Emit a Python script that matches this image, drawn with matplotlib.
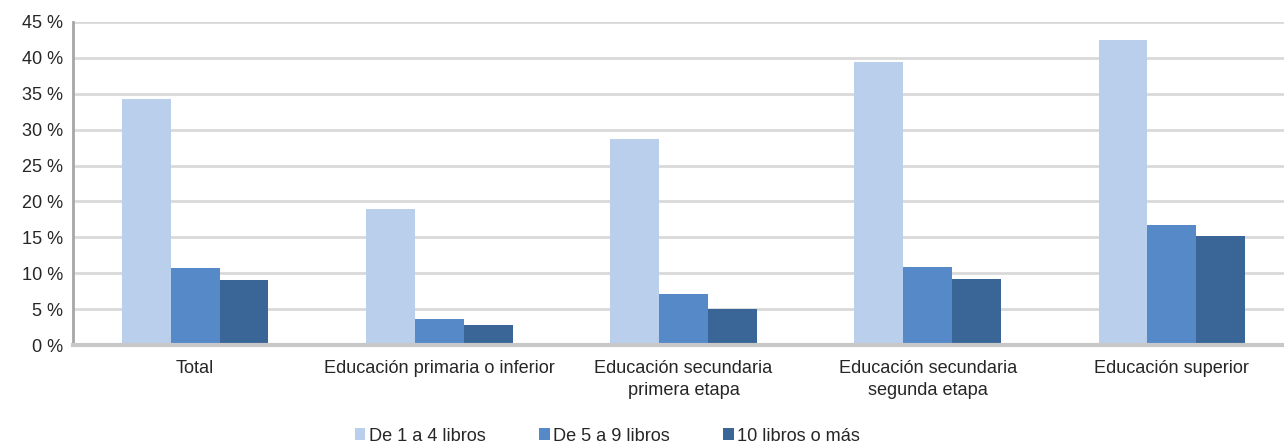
import matplotlib
matplotlib.use("Agg")
import matplotlib.pyplot as plt
import numpy as np

plt.rcParams['font.family'] = ['Liberation Sans', 'DejaVu Sans']

# data
categorias = ["Total", "Educación primaria o inferior",
              "Educación secundaria\nprimera etapa",
              "Educación secundaria\nsegunda etapa", "Educación superior"]
de_1_a_4 = [34.3, 18.9, 28.7, 39.4, 42.5]
de_5_a_9 = [10.7, 3.6, 7.1, 10.9, 16.7]
diez_o_mas = [9.05, 2.8, 5.0, 9.2, 15.2]
series = ["De 1 a 4 libros", "De 5 a 9 libros", "10 libros o más"]
colores = ['#b9cfeb', '#5589c8', '#3a6597']

fig = plt.figure(figsize=(12.84, 4.44), dpi=100)
ax = fig.add_axes([73 / 1284, 99 / 444, 1 - 73 / 1284, 323 / 444])

x = np.arange(len(categorias))
w = 0.2
for i, (vals, nom) in enumerate(zip([de_1_a_4, de_5_a_9, diez_o_mas], series)):
    ax.bar(x + (i - 1) * w, vals, w, color=colores[i], label=nom, zorder=3)

ax.set_ylim(0, 45)
ax.set_xlim(-0.5, 4.459)
ax.set_yticks(range(0, 46, 5))
ax.set_yticklabels([f"{v} %" for v in range(0, 46, 5)])
ax.set_xticks(x)
ax.set_xticklabels(categorias, linespacing=1.35)
ax.tick_params(axis='both', length=0, labelsize=13.1, colors='#262626')
ax.tick_params(axis='x', pad=11)
ax.tick_params(axis='y', pad=7)
ax.grid(axis='y', color='#d9d9d9', linewidth=2, zorder=0)
for s in ['top', 'right']:
    ax.spines[s].set_visible(False)
ax.spines['left'].set_color('#a6a6a6')
ax.spines['left'].set_linewidth(2)
ax.spines['bottom'].set_color('#c8c8c8')
ax.spines['bottom'].set_linewidth(3)
ax.spines['bottom'].set_zorder(4)

leg = fig.legend(loc='center', bbox_to_anchor=(0.473, 8 / 444), ncol=3, frameon=False,
                 fontsize=13.1, handlelength=0.6, handleheight=0.6, handletextpad=0.2,
                 columnspacing=2.9)
for t in leg.get_texts():
    t.set_color('#262626')

fig.savefig("out.png", dpi=100)
